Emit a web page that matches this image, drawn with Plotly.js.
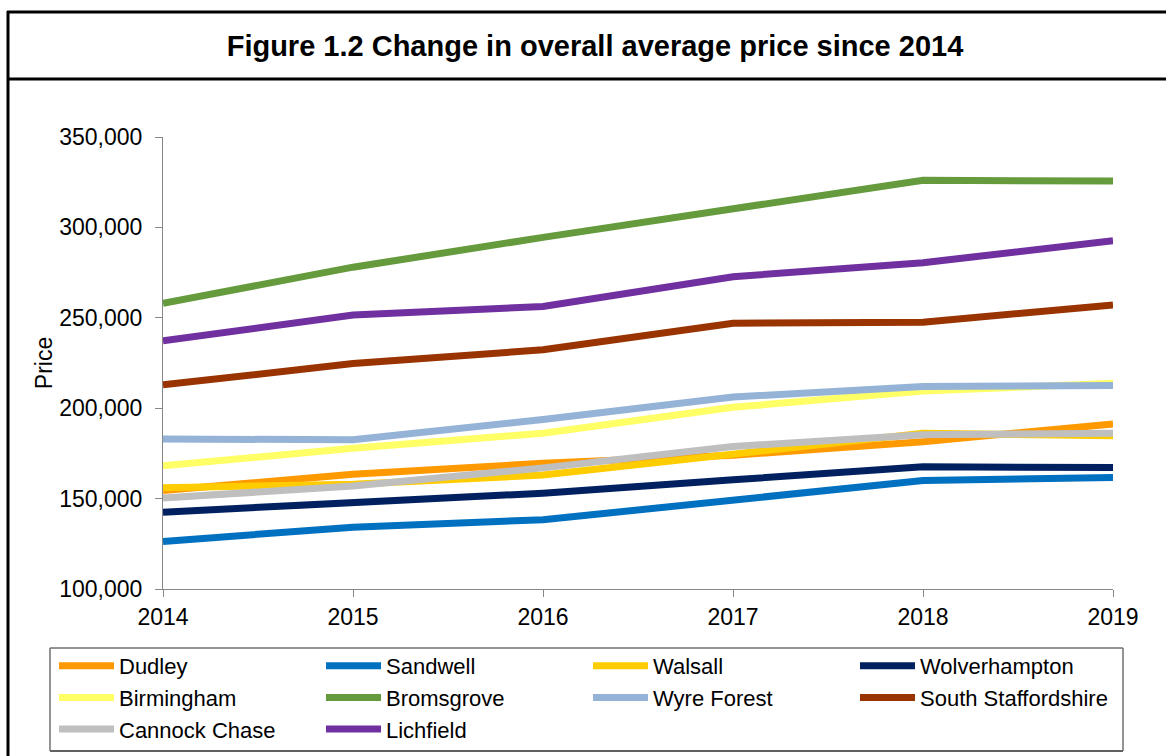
<!DOCTYPE html>
<html>
<head>
<meta charset="utf-8">
<script src="https://cdn.plot.ly/plotly-3.0.1.min.js"></script>
<style>
  html, body { margin: 0; padding: 0; background: #ffffff; overflow: hidden; }
  #chart { width: 1166px; height: 756px; }
</style>
</head>
<body>
<div id="chart"></div>
<script>
// ---- Data ----
const years = [2014, 2015, 2016, 2017, 2018, 2019];

const seriesNames = ["Dudley", "Sandwell", "Walsall", "Wolverhampton", "Birmingham",
                     "Bromsgrove", "Wyre Forest", "South Staffordshire", "Cannock Chase", "Lichfield"];

const dudley             = [154500, 163500, 169500, 174000, 181500, 191300];
const sandwell           = [126300, 134200, 138300, 149000, 160000, 161700];
const walsall            = [156000, 158000, 163000, 174500, 186200, 184800];
const wolverhampton      = [142500, 147800, 153000, 160400, 167600, 167200];
const birmingham         = [168100, 177900, 186200, 200500, 209500, 213800];
const bromsgrove         = [258000, 278000, 294500, 310000, 326100, 325600];
const wyreForest         = [183000, 182500, 193800, 206200, 212000, 212500];
const southStaffordshire = [212900, 224700, 232300, 247000, 247600, 257100];
const cannockChase       = [150300, 157000, 167000, 178800, 185300, 186200];
const lichfield          = [237300, 251500, 256300, 272700, 280500, 292600];

const yTickVals = [100000, 150000, 200000, 250000, 300000, 350000];

const seriesValues = [dudley, sandwell, walsall, wolverhampton, birmingham,
                      bromsgrove, wyreForest, southStaffordshire, cannockChase, lichfield];

const seriesColors = ["#FF9900", "#0070C0", "#FFCC00", "#002060", "#FFFF66",
                      "#659B3D", "#95B3D7", "#993300", "#BFBFBF", "#7030A0"];

// ---- Layout geometry (pixels) ----
const W = 1166, H = 756;
const plotL = 163, plotR = 1113, plotT = 137, plotB = 589;
const pw = plotR - plotL, ph = plotB - plotT;
const px = x => (x - plotL) / pw;        // pixel -> paper x
const py = y => (plotB - y) / ph;        // pixel -> paper y

const FONT = '"Liberation Sans", Arial, Helvetica, sans-serif';

const traces = seriesNames.map((name, i) => ({
  type: 'scatter',
  mode: 'lines',
  name: name,
  x: years,
  y: seriesValues[i],
  line: { color: seriesColors[i], width: 7 },
  hoverinfo: 'x+y+name'
}));

const frameLine = { color: '#000000', width: 3 };
const boxLine = { color: '#707070', width: 1.5 };

const layout = {
  width: W,
  height: H,
  paper_bgcolor: '#ffffff',
  plot_bgcolor: '#ffffff',
  margin: { l: plotL, r: W - plotR, t: plotT, b: H - plotB, pad: 0, autoexpand: false },
  font: { family: FONT, color: '#000000', size: 22 },
  title: {
    text: '<b>Figure 1.2 Change in overall average price since 2014</b>',
    font: { family: FONT, size: 29, color: '#000000' },
    xref: 'container', yref: 'container',
    x: 595 / W, xanchor: 'center',
    y: 1 - 46 / H, yanchor: 'middle'
  },
  xaxis: {
    type: 'linear',
    range: [2014, 2019],
    tickvals: years,
    ticktext: years.map(String),
    showgrid: false,
    zeroline: false,
    showline: true,
    linecolor: '#868686',
    linewidth: 1,
    ticks: 'outside',
    ticklen: 7,
    tickcolor: '#868686',
    tickfont: { family: FONT, size: 23, color: '#000000' },
    fixedrange: true
  },
  yaxis: {
    range: [100000, 350000],
    tickvals: yTickVals,
    tickformat: ',d',
    showgrid: false,
    zeroline: false,
    showline: true,
    linecolor: '#868686',
    linewidth: 1,
    ticks: 'outside',
    ticklen: 7,
    tickcolor: '#868686',
    ticklabelstandoff: 8,
    tickfont: { family: FONT, size: 23, color: '#000000' },
    title: { text: 'Price', font: { family: FONT, size: 23, color: '#000000' }, standoff: 0 },
    fixedrange: true
  },
  showlegend: true,
  legend: {
    orientation: 'h',
    x: px(54), xanchor: 'left',
    y: py(645), yanchor: 'top',
    entrywidth: 197,
    entrywidthmode: 'pixels',
    itemwidth: 55,
    borderwidth: 0,
    bgcolor: 'rgba(255,255,255,0)',
    font: { family: FONT, size: 22, color: '#000000' },
    traceorder: 'normal'
  },
  shapes: [
    // outer frame top
    { type: 'line', layer: 'above', xref: 'paper', yref: 'paper', x0: px(7), x1: px(W + 5), y0: py(12), y1: py(12), line: frameLine },
    // divider under title
    { type: 'line', layer: 'above', xref: 'paper', yref: 'paper', x0: px(7), x1: px(W + 5), y0: py(79), y1: py(79), line: frameLine },
    // left border
    { type: 'line', layer: 'above', xref: 'paper', yref: 'paper', x0: px(8), x1: px(8), y0: py(11), y1: py(H + 5), line: frameLine },
    // legend box: four separate edges
    { type: 'line', layer: 'above', xref: 'paper', yref: 'paper', x0: px(50), x1: px(1123), y0: py(648), y1: py(648), line: boxLine },
    { type: 'line', layer: 'above', xref: 'paper', yref: 'paper', x0: px(50), x1: px(1123), y0: py(751), y1: py(751), line: { color: '#606060', width: 2 } },
    { type: 'line', layer: 'above', xref: 'paper', yref: 'paper', x0: px(50), x1: px(50), y0: py(648), y1: py(751), line: boxLine },
    { type: 'line', layer: 'above', xref: 'paper', yref: 'paper', x0: px(1123), x1: px(1123), y0: py(648), y1: py(751), line: boxLine }
  ]
};

Plotly.newPlot('chart', traces, layout, { displayModeBar: false, staticPlot: true });
</script>
</body>
</html>
